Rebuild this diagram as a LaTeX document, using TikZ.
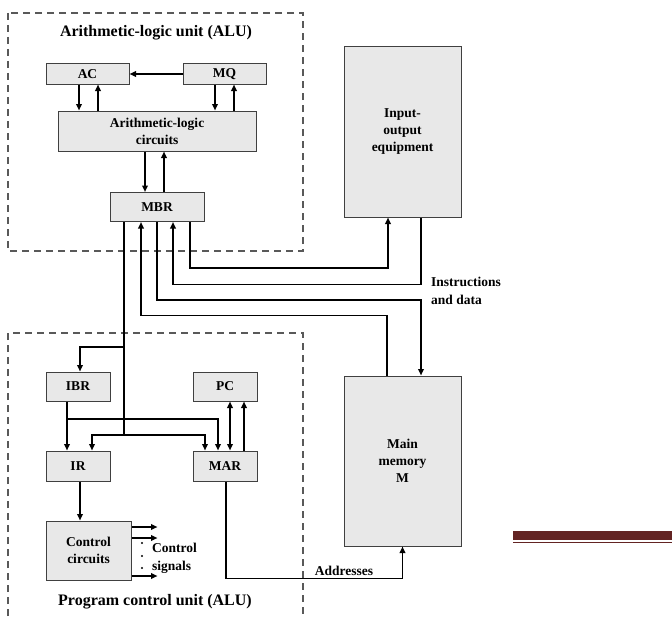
\documentclass[tikz,border=0pt]{standalone}
\usepackage{fontspec}
\setmainfont{Liberation Serif}
\usetikzlibrary{arrows.meta}
\definecolor{barred}{HTML}{632423}
\begin{document}
\begin{tikzpicture}[x=1pt,y=-1pt,
  box/.style={draw=black!75, fill=black!9, line width=1pt, inner sep=0pt, align=center,
    font=\fontsize{13.5}{17}\selectfont\bfseries},
  arr/.style={line width=1.9pt, -{Triangle[length=6.5pt,width=5.5pt]}},
  darr/.style={line width=1.9pt, {Triangle[length=6.5pt,width=5.5pt]}-{Triangle[length=6.5pt,width=5.5pt]}},
  ln/.style={line width=1.9pt},
  unitbox/.style={draw=black!65, line width=1.2pt, dash pattern=on 7pt off 5pt},
  title/.style={font=\fontsize{16}{18}\selectfont\bfseries},
  lbl/.style={font=\fontsize{13.5}{18}\selectfont\bfseries, align=left, inner sep=0pt}]
\useasboundingbox (0,0) rectangle (672,618);
\fill[white] (0,0) rectangle (672,618);

% unit frames
\draw[unitbox] (8,13) rectangle (303,251);
\draw[unitbox] (8,640) -- (8,333) -- (303,333) -- (303,640);
\node[title] (alutitle) at (156,33) {Arithmetic-logic unit (ALU)};
\node[title] (pcutitle) at (155,602) {Program control unit (ALU)};

% boxes
\node[box, minimum width=83pt, minimum height=20pt] (AC) at (87.5,74) {AC};
\node[box, minimum width=83pt, minimum height=20pt] (MQ) at (224.5,74) {MQ};
\node[box, minimum width=198pt, minimum height=40pt] (ALC) at (157,131) {Arithmetic-logic\\circuits};
\node[box, minimum width=94pt, minimum height=29pt] (MBR) at (157,207) {MBR};
\node[box, minimum width=117pt, minimum height=170pt] (IO) at (402.5,132) {Input-\\output\\equipment};
\node[box, minimum width=117pt, minimum height=170pt] (MEM) at (402.5,461) {Main\\memory\\M};
\node[box, minimum width=64pt, minimum height=29pt] (IBR) at (78,386.5) {IBR};
\node[box, minimum width=64pt, minimum height=29pt] (PC) at (225,386.5) {PC};
\node[box, minimum width=64pt, minimum height=30pt] (IR) at (78,466) {IR};
\node[box, minimum width=64pt, minimum height=30pt] (MAR) at (225,466) {MAR};
\node[box, minimum width=85pt, minimum height=59pt] (CC) at (88.5,550.5) {Control\\circuits};

% ALU internal
\draw[arr] (MQ.west) -- (AC.east);
\path ([xshift=-8.5pt]AC.south) coordinate (a1) ([xshift=10.5pt]AC.south) coordinate (a2);
\draw[arr] (a1) -- (a1 |- ALC.north);
\draw[arr] (a2 |- ALC.north) -- (a2);
\path ([xshift=-9.5pt]MQ.south) coordinate (m1) ([xshift=9.5pt]MQ.south) coordinate (m2);
\draw[arr] (m1) -- (m1 |- ALC.north);
\draw[arr] (m2 |- ALC.north) -- (m2);
\path ([xshift=-12pt]MBR.north) coordinate (b1) ([xshift=7pt]MBR.north) coordinate (b2);
\draw[arr] (b1 |- ALC.south) -- (b1);
\draw[arr] (b2) -- (b2 |- ALC.south);

% MBR <-> IO / memory
\draw[arr] ([xshift=33pt]MBR.south) -- ++(0,46) -| ([xshift=-14.5pt]IO.south);
\draw[arr] ([xshift=18.5pt]IO.south) -- ++(0,67) -| ([xshift=16pt]MBR.south);
\draw[arr] (MBR.south) -- ++(0,78) -| ([xshift=18.5pt]MEM.north);
\draw[arr] ([xshift=-15.5pt]MEM.north) -- ++(0,-60) -| ([xshift=-16pt]MBR.south);
\node[lbl, anchor=north west] (instr) at (431,277) {Instructions\\and data};

% MBR -> program control unit
\path ([xshift=-33pt]MBR.south) coordinate (g)
      ([xshift=-33pt]MBR.south) ++(0,125) coordinate (br1)
      ([xshift=-33pt]MBR.south) ++(0,213) coordinate (br2);
\draw[ln] (g) -- (br2);
\draw[arr] (br1) -| ([xshift=2pt]IBR.north);
\draw[arr] (br2) -| ([xshift=14pt]IR.north);
\draw[arr] (br2) -| ([xshift=-20pt]MAR.north);

% IBR -> IR / MAR
\path ([xshift=-11pt]IBR.south) coordinate (i1) ([xshift=-11pt]IBR.south) ++(0,17.5) coordinate (i2);
\draw[arr] (i1) -- (i1 |- IR.north);
\draw[arr] (i2) -| ([xshift=-7pt]MAR.north);

% MAR <-> PC
\draw[darr] ([xshift=5pt]MAR.north) -- ([xshift=5pt]PC.south);
\draw[arr] ([xshift=19pt]MAR.north) -- ([xshift=19pt]PC.south);

% IR -> control circuits
\path ([xshift=2pt]IR.south) coordinate (r1);
\draw[arr] (r1) -- (r1 |- CC.north);

% control signals
\draw[arr] ([yshift=23.5pt]CC.east) -- ++(26,0);
\draw[arr] ([yshift=12.5pt]CC.east) -- ++(26,0);
\draw[arr] ([yshift=-25.5pt]CC.east) -- ++(26,0);
\fill (142,543) circle (1.2pt) (142,556) circle (1.2pt) (142,568) circle (1.2pt);
\node[lbl, anchor=north west] (csig) at (152,543) {Control\\signals};

% MAR -> memory
\draw[arr] ([xshift=1pt]MAR.south) -- ++(0,97) -| (MEM.south);
\node[lbl, anchor=south] (addr) at (344,576) {Addresses};

% decorative bar
\fill[barred] (513,531) rectangle (672,540);
\draw[barred, line width=1.2pt] (513,542.5) -- (672,542.5);
\end{tikzpicture}
\end{document}
